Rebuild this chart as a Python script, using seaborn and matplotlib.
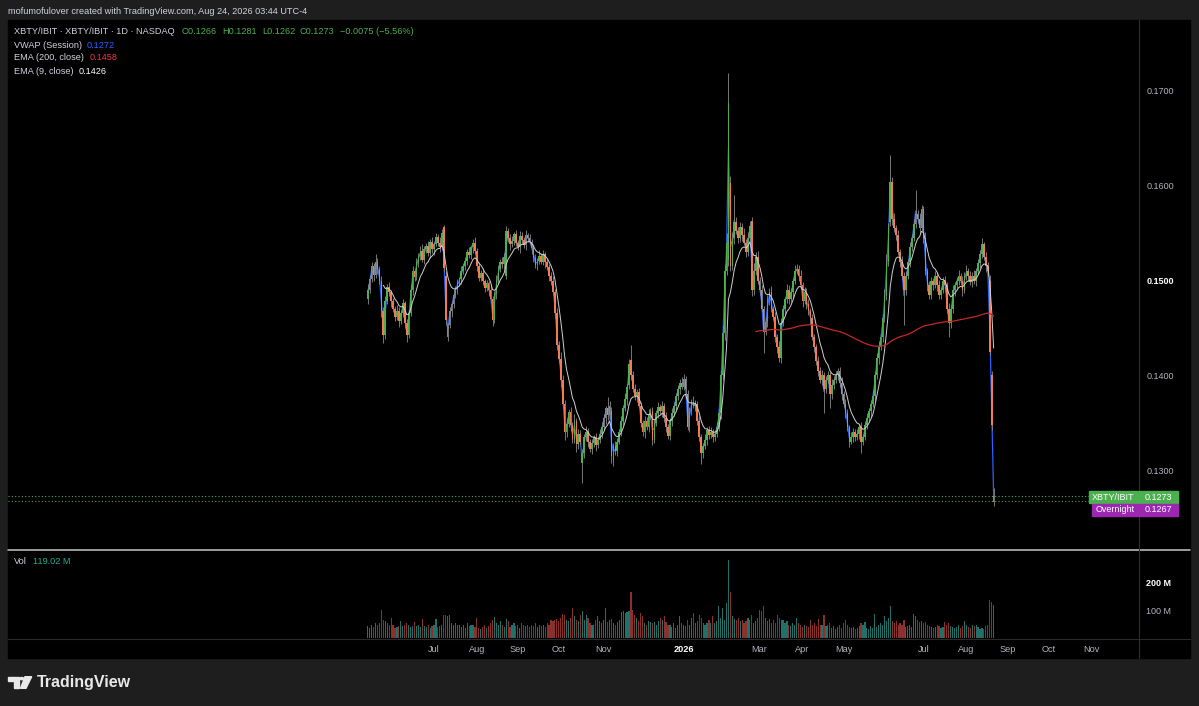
import numpy as np
import pandas as pd
import matplotlib
matplotlib.use("Agg")
import matplotlib.pyplot as plt
import seaborn as sns
from matplotlib.patches import Rectangle, Polygon, Circle
from matplotlib.lines import Line2D

# ---- data: prices in 1/10000, volume in millions ----
first_day = "2025-05-12"
market_holidays = ["2025-05-26", "2025-06-19", "2025-07-04", "2025-09-01", "2025-11-27",
                   "2025-12-25", "2026-01-01", "2026-01-19", "2026-02-16", "2026-04-03",
                   "2026-05-25", "2026-06-19", "2026-07-03", "2026-09-07", "2026-11-26"]

closes = [
    1490, 1502, 1515, 1506, 1520, 1512, 1500, 1468, 1442, 1478,
    1493, 1488, 1478, 1470, 1462, 1468, 1457, 1466, 1476, 1455,
    1443, 1466, 1490, 1510, 1504, 1520, 1526, 1531, 1522, 1533,
    1536, 1529, 1541, 1533, 1539, 1546, 1540, 1535, 1550, 1513,
    1458, 1453, 1468, 1475, 1485, 1491, 1498, 1502, 1510, 1515,
    1521, 1530, 1527, 1535, 1540, 1531, 1515, 1503, 1508, 1500,
    1492, 1497, 1490, 1480, 1458, 1486, 1500, 1512, 1520, 1517,
    1525, 1552, 1545, 1538, 1542, 1549, 1540, 1535, 1547, 1543,
    1537, 1548, 1545, 1541, 1534, 1524, 1516, 1521, 1526, 1520,
    1528, 1519, 1514, 1505, 1499, 1488, 1466, 1432, 1417, 1395,
    1370, 1340, 1349, 1361, 1347, 1333, 1352, 1327, 1338, 1330,
    1318, 1335, 1340, 1330, 1322, 1328, 1335, 1326, 1332, 1338,
    1345, 1355, 1365, 1358, 1368, 1315, 1325, 1320, 1330, 1340,
    1352, 1365, 1375, 1388, 1412, 1400, 1385, 1378, 1382, 1368,
    1350, 1340, 1352, 1345, 1358, 1362, 1332, 1350, 1360, 1366,
    1362, 1368, 1355, 1345, 1336, 1352, 1360, 1368, 1378, 1385,
    1392, 1388, 1396, 1385, 1345, 1362, 1372, 1368, 1370, 1352,
    1335, 1318, 1325, 1332, 1342, 1337, 1340, 1335, 1338, 1345,
    1360, 1400, 1445, 1510, 1540, 1687, 1515, 1545, 1562, 1552,
    1545, 1556, 1548, 1540, 1530, 1545, 1558, 1490, 1510, 1525,
    1500, 1490, 1470, 1446, 1456, 1480, 1488, 1470, 1462, 1440,
    1430, 1418, 1455, 1470, 1480, 1490, 1480, 1488, 1500, 1510,
    1512, 1505, 1495, 1478, 1488, 1475, 1468, 1460, 1440, 1430,
    1415, 1405, 1395, 1400, 1385, 1395, 1400, 1380, 1390, 1395,
    1400, 1405, 1392, 1380, 1370, 1360, 1345, 1330, 1335, 1340,
    1335, 1338, 1345, 1330, 1335, 1348, 1355, 1362, 1370, 1378,
    1400, 1418, 1430, 1440, 1460, 1485, 1520, 1555, 1604, 1565,
    1555, 1548, 1530, 1520, 1505, 1490, 1505, 1520, 1535, 1545,
    1560, 1570, 1565, 1555, 1575, 1545, 1510, 1495, 1485, 1500,
    1495, 1505, 1495, 1485, 1490, 1500, 1495, 1470, 1455, 1470,
    1490, 1495, 1500, 1505, 1500, 1490, 1505, 1510, 1505, 1498,
    1505, 1500, 1510, 1518, 1528, 1538, 1525, 1515, 1510, 1425,
    1348, 1273,
]

opens = [
    1480, 1490, 1502, 1515, 1506, 1520, 1512, 1500, 1468, 1442,
    1478, 1493, 1488, 1478, 1470, 1462, 1468, 1457, 1466, 1476,
    1455, 1443, 1466, 1490, 1510, 1504, 1520, 1526, 1531, 1522,
    1533, 1536, 1529, 1541, 1533, 1539, 1546, 1540, 1535, 1556,
    1505, 1440, 1453, 1468, 1475, 1485, 1491, 1498, 1502, 1510,
    1515, 1521, 1530, 1527, 1535, 1540, 1531, 1515, 1503, 1508,
    1500, 1492, 1497, 1490, 1480, 1458, 1486, 1500, 1512, 1520,
    1517, 1505, 1552, 1545, 1538, 1542, 1549, 1540, 1535, 1547,
    1543, 1537, 1548, 1545, 1541, 1534, 1524, 1516, 1521, 1526,
    1520, 1528, 1519, 1514, 1505, 1499, 1488, 1466, 1432, 1417,
    1395, 1370, 1340, 1349, 1361, 1347, 1333, 1352, 1327, 1338,
    1307, 1318, 1335, 1340, 1330, 1322, 1328, 1335, 1326, 1332,
    1338, 1345, 1355, 1365, 1358, 1362, 1310, 1325, 1320, 1330,
    1340, 1352, 1365, 1375, 1390, 1416, 1400, 1385, 1378, 1382,
    1368, 1350, 1340, 1352, 1345, 1358, 1362, 1332, 1350, 1360,
    1366, 1362, 1368, 1355, 1345, 1336, 1352, 1360, 1368, 1378,
    1385, 1392, 1388, 1396, 1380, 1345, 1362, 1372, 1368, 1370,
    1352, 1335, 1318, 1325, 1332, 1342, 1337, 1340, 1335, 1338,
    1345, 1360, 1400, 1445, 1510, 1522, 1603, 1515, 1545, 1562,
    1552, 1545, 1556, 1548, 1540, 1530, 1545, 1563, 1490, 1510,
    1525, 1500, 1490, 1470, 1446, 1456, 1480, 1488, 1470, 1462,
    1440, 1430, 1418, 1455, 1470, 1480, 1490, 1480, 1488, 1500,
    1510, 1512, 1505, 1495, 1478, 1488, 1475, 1468, 1460, 1440,
    1430, 1415, 1405, 1395, 1400, 1385, 1395, 1400, 1380, 1390,
    1395, 1400, 1405, 1392, 1380, 1370, 1360, 1345, 1330, 1335,
    1340, 1335, 1338, 1345, 1330, 1335, 1348, 1355, 1362, 1370,
    1378, 1400, 1418, 1430, 1440, 1460, 1485, 1520, 1562, 1604,
    1565, 1555, 1548, 1530, 1520, 1505, 1490, 1505, 1520, 1535,
    1545, 1560, 1570, 1565, 1555, 1575, 1545, 1510, 1495, 1485,
    1500, 1495, 1505, 1495, 1485, 1490, 1500, 1495, 1470, 1455,
    1470, 1490, 1495, 1500, 1505, 1500, 1490, 1505, 1510, 1505,
    1498, 1505, 1500, 1510, 1518, 1528, 1538, 1525, 1515, 1500,
    1400, 1266,
]

wick_up = [
    6, 4, 5, 3, 8, 4, 3, 5, 4, 6,   3, 5, 2, 4, 3, 6, 4, 3, 5, 2,
    4, 3, 6, 5, 2, 4, 3, 5, 7, 3,   4, 6, 3, 5, 2, 4, 3, 6, 4, 3,
    5, 2, 4, 3, 6, 3, 4, 2, 5, 3,   4, 3, 5, 2, 4, 6, 3, 4, 3, 5,
    2, 4, 3, 5, 4, 3, 6, 4, 3, 5,   4, 6, 3, 4, 5, 2, 4, 3, 5, 4,
    3, 5, 2, 4, 3, 5, 4, 3, 6, 3,   4, 2, 5, 3, 4, 6, 3, 5, 4, 8,
    5, 4, 6, 3, 5, 4, 7, 3, 5, 4,   4, 3, 6, 4, 3, 5, 2, 4, 3, 5,
    6, 4, 3, 12, 5, 4, 3, 6, 4, 3,  5, 4, 6, 3, 5, 16, 4, 6, 3, 5,
    4, 3, 5, 4, 6, 3, 5, 4, 3, 6,   4, 5, 3, 6, 4, 3, 5, 4, 3, 5,
    4, 6, 5, 3, 4, 5, 3, 6, 4, 3,   5, 3, 4, 6, 3, 4, 5, 3, 4, 6,
    5, 6, 8, 7, 10, 32, 7, 6, 28, 5, 4, 6, 5, 7, 4, 6, 5, 4, 8, 5,
    6, 4, 5, 3, 6, 5, 4, 6, 3, 5,   4, 6, 5, 4, 3, 6, 5, 4, 3, 6,
    5, 4, 6, 3, 5, 4, 6, 3, 5, 4,   3, 5, 4, 6, 3, 4, 5, 3, 6, 4,
    5, 3, 4, 6, 3, 5, 4, 3, 5, 4,   3, 5, 4, 6, 3, 4, 5, 3, 4, 6,
    4, 5, 6, 4, 5, 6, 8, 6, 28, 5,  6, 4, 5, 3, 6, 4, 5, 3, 6, 4,
    5, 25, 4, 6, 5, 4, 6, 3, 5, 4,  3, 5, 4, 6, 3, 4, 5, 3, 6, 4,
    5, 3, 4, 6, 3, 5, 4, 6, 3, 5,   4, 6, 3, 5, 4, 7, 3, 5, 4, 6,
    4, 8,
]

wick_down = [
    5, 3, 4, 6, 3, 5, 4, 6, 8, 4,   3, 4, 6, 3, 5, 4, 6, 3, 4, 5,
    8, 4, 3, 5, 4, 3, 6, 4, 3, 5,   4, 3, 5, 4, 6, 3, 4, 5, 3, 4,
    5, 4, 3, 6, 4, 3, 5, 4, 6, 3,   4, 5, 3, 4, 6, 3, 5, 4, 3, 5,
    4, 3, 6, 4, 6, 3, 5, 4, 3, 4,   5, 3, 4, 6, 3, 5, 4, 3, 6, 4,
    3, 5, 4, 3, 6, 4, 3, 5, 4, 3,   4, 6, 3, 5, 4, 3, 6, 5, 4, 7,
    6, 8, 5, 4, 6, 5, 4, 8, 5, 4,   21, 5, 4, 6, 3, 5, 4, 6, 3, 4,
    4, 3, 6, 5, 4, 8, 6, 4, 5, 3,   4, 5, 3, 6, 4, 5, 3, 4, 6, 3,
    5, 4, 6, 3, 5, 4, 6, 3, 4, 5,   3, 6, 4, 5, 3, 4, 6, 3, 5, 4,
    5, 3, 4, 6, 3, 5, 4, 3, 6, 4,   4, 12, 5, 3, 6, 4, 3, 5, 4, 3,
    4, 6, 5, 8, 4, 7, 5, 4, 6, 3,   5, 4, 6, 3, 5, 4, 3, 6, 5, 4,
    4, 5, 3, 23, 4, 5, 6, 3, 4, 5,  6, 4, 5, 3, 6, 4, 5, 3, 6, 4,
    3, 5, 4, 6, 3, 5, 4, 6, 3, 5,   4, 6, 3, 5, 25, 4, 3, 15, 5, 4,
    3, 5, 4, 6, 3, 5, 4, 6, 3, 5,   4, 3, 5, 12, 4, 3, 5, 4, 6, 3,
    5, 4, 6, 3, 5, 4, 6, 5, 4, 6,   4, 5, 3, 6, 4, 37, 5, 3, 6, 4,
    3, 5, 4, 6, 3, 5, 4, 6, 5, 4,   5, 3, 6, 4, 5, 3, 6, 4, 15, 5,
    4, 6, 3, 5, 4, 6, 3, 4, 5, 3,   5, 4, 6, 3, 5, 4, 3, 6, 5, 4,
    6, 4,
]

volumes_m = [
    43, 37, 46, 41, 53, 49, 55, 103, 67, 61,   53, 49, 73, 46, 37, 41, 43, 61, 43, 46,
    53, 49, 41, 43, 58, 43, 46, 41, 70, 43,    41, 46, 38, 43, 46, 70, 41, 43, 49, 82,
    85, 79, 82, 53, 49, 53, 46, 49, 41, 46,    37, 55, 43, 46, 49, 41, 73, 36, 34, 41,
    48, 37, 43, 53, 65, 77, 55, 49, 61, 46,    41, 70, 61, 41, 46, 55, 43, 49, 37, 53,
    46, 43, 49, 41, 48, 43, 53, 41, 46, 43,    49, 41, 53, 46, 67, 61, 65, 70, 61, 73,
    89, 82, 67, 61, 73, 109, 79, 67, 61, 85,   97, 67, 82, 73, 53, 46, 49, 67, 79, 61,
    53, 67, 109, 58, 65, 70, 53, 46, 58, 67,   94, 97, 91, 94, 97, 169, 103, 85, 73, 61,
    91, 79, 55, 49, 61, 58, 53, 58, 49, 61,    73, 67, 79, 58, 49, 46, 41, 53, 37, 46,
    79, 53, 46, 43, 65, 49, 73, 91, 53, 61,    82, 73, 53, 49, 55, 67, 55, 79, 53, 61,
    118, 73, 109, 67, 127, 285, 166, 79, 70, 65, 73, 61, 67, 53, 61, 73, 65, 82, 53, 61,
    73, 103, 97, 118, 73, 61, 70, 55, 67, 53,  85, 73, 65, 67, 53, 61, 49, 43, 53, 46,
    73, 53, 46, 41, 49, 43, 41, 67, 46, 53,    43, 70, 49, 46, 85, 43, 46, 53, 37, 43,
    34, 41, 49, 37, 53, 65, 46, 41, 37, 41,    34, 37, 43, 53, 46, 58, 36, 34, 43, 37,
    89, 41, 46, 53, 49, 79, 61, 73, 115, 61,   53, 61, 46, 53, 49, 67, 41, 43, 46, 41,
    89, 79, 65, 58, 61, 53, 58, 49, 43, 41,    37, 41, 49, 43, 37, 41, 58, 49, 53, 43,
    41, 37, 41, 46, 37, 43, 61, 46, 41, 37,    49, 43, 46, 41, 34, 37, 34, 43, 49, 140,
    130, 119.02,
]

# readouts printed in the chart's legend
last_ohlc = {"O": "0.1266", "H": "0.1281", "L": "0.1262", "C": "0.1273"}
last_change = "\u22120.0075 (\u22125.56%)"
vwap_readout, ema200_readout, ema9_readout = "0.1272", "0.1458", "0.1426"
last_price, overnight_price = 0.1273, 0.1267

tick_months = ["2025-07-01", "2025-08-01", "2025-09-01", "2025-10-01", "2025-11-01",
               "2026-01-01", "2026-03-01", "2026-04-01", "2026-05-01", "2026-07-01",
               "2026-08-01", "2026-09-01", "2026-10-01", "2026-11-01"]
tick_labels = ["Jul", "Aug", "Sep", "Oct", "Nov", "2026", "Mar", "Apr", "May",
               "Jul", "Aug", "Sep", "Oct", "Nov"]
price_ticks = [0.13, 0.14, 0.15, 0.16, 0.17]
vol_ticks = [100, 200]

# ---- look ----
W, H = 1199, 706
BG = "#1e1e1e"
UP, DOWN, WICK = "#4caf50", "#f47a52", "#8a8a8a"
VOL_UP, VOL_DOWN = "#1f7169", "#8a302d"
AXIS_TXT = "#b2b5be"


def fx(x):
    return x / W


def fy(y):
    return 1 - y / H


# pixel calibration of the reference: bar index -> x, price -> y
X0, DX = 367.7, 1.95
def price_at(py):
    return 0.17 - (py - 91) / 9475


def ema(values, length):
    out = np.full(len(values), np.nan)
    out[length - 1] = values[:length].mean()
    a = 2 / (length + 1)
    for k in range(length, len(values)):
        out[k] = a * values[k] + (1 - a) * out[k - 1]
    return out


sns.set_theme(style="dark")
plt.rcParams["font.family"] = ["Liberation Sans", "DejaVu Sans"]

days = pd.bdate_range(first_day, "2026-12-31")
days = days[~days.isin(pd.to_datetime(market_holidays))]
n = len(closes)
idx = np.arange(n)

o = np.array(opens) / 1e4
c = np.array(closes) / 1e4
hi = np.maximum(o, c) + np.array(wick_up) / 1e4
lo = np.minimum(o, c) - np.array(wick_down) / 1e4
up = c >= o
vwap = (hi + lo + c) / 3
ema9 = ema(c, 9)
ema200 = ema(c, 200)

fig = plt.figure(figsize=(W / 100, H / 100), dpi=100, facecolor=BG)
fig.patches.append(Rectangle((fx(8), fy(658)), (1190 - 8) / W, (658 - 20) / H,
                             transform=fig.transFigure, color="black", zorder=-5))

# price panel
ax = fig.add_axes([fx(8), fy(549), (1138 - 8) / W, (549 - 20) / H])
ax.set_facecolor("black")
sns.lineplot(x=idx, y=vwap, color="#2962ff", linewidth=0.9, estimator=None, sort=False,
             ax=ax, zorder=2)
ax.vlines(idx, lo, hi, color=WICK, linewidth=0.6, zorder=3)
ax.bar(idx, np.maximum(np.abs(c - o), 0.00004), bottom=np.minimum(o, c), width=0.85,
       color=np.where(up, UP, DOWN), linewidth=0, zorder=4)
sns.lineplot(x=idx[8:], y=ema9[8:], color="#d0d0d0", linewidth=0.7, estimator=None,
             sort=False, ax=ax, zorder=5)
sns.lineplot(x=idx[199:], y=ema200[199:], color="#c62828", linewidth=0.9, estimator=None,
             sort=False, ax=ax, zorder=5)
ax.axhline(last_price, color="#4caf50", linestyle=(0, (1, 2)), linewidth=0.8, zorder=1)
ax.axhline(overnight_price, color="#5c9c5c", linestyle=(0, (1, 2)), linewidth=0.8, zorder=1)

ax.set_xlim((8 - X0) / DX, (1138 - X0) / DX)
ax.set_ylim(price_at(549), price_at(20))
ax.set_xticks([])
ax.yaxis.tick_right()
ax.set_yticks(price_ticks, [f"{p:.4f}" for p in price_ticks])
ax.tick_params(axis="y", length=0, pad=6, labelsize=6.5, labelcolor=AXIS_TXT)
for lab in ax.get_yticklabels():
    if lab.get_text() == "0.1500":
        lab.set_fontweight("bold")
        lab.set_color("white")
ax.set_xlabel("")
ax.set_ylabel("")
for s in ax.spines.values():
    s.set_visible(False)

# volume panel
ax2 = fig.add_axes([fx(8), fy(638), (1138 - 8) / W, (638 - 551) / H])
ax2.set_facecolor("black")
ax2.bar(idx, volumes_m, width=0.6, color=np.where(up, VOL_UP, VOL_DOWN),
        linewidth=0, antialiased=False)
ax2.set_xlim((8 - X0) / DX, (1138 - X0) / DX)
ax2.set_ylim(0, 87 / 27.5 * 100)
tick_pos = [days.searchsorted(pd.Timestamp(d)) for d in tick_months]
ax2.set_xticks(tick_pos, tick_labels)
ax2.tick_params(axis="x", length=0, pad=5, labelsize=6.6, labelcolor=AXIS_TXT)
for lab in ax2.get_xticklabels():
    if lab.get_text() == "2026":
        lab.set_fontweight("bold")
        lab.set_color("white")
ax2.yaxis.tick_right()
ax2.set_yticks(vol_ticks, [f"{v} M" for v in vol_ticks])
ax2.tick_params(axis="y", length=0, pad=6, labelsize=6.5, labelcolor=AXIS_TXT)
for lab in ax2.get_yticklabels():
    if lab.get_text() == "200 M":
        lab.set_fontweight("bold")
        lab.set_color("white")
ax2.grid(False)
for s in ax2.spines.values():
    s.set_visible(False)

# panel separators
fig.add_artist(Line2D([fx(8), fx(1190)], [fy(550), fy(550)], transform=fig.transFigure,
                      color="#c8c8c8", linewidth=1.1))
fig.add_artist(Line2D([fx(8), fx(1190)], [fy(638.5), fy(638.5)], transform=fig.transFigure,
                      color="#2a2a2a", linewidth=0.8))
fig.add_artist(Line2D([fx(1138.5), fx(1138.5)], [fy(20), fy(658)], transform=fig.transFigure,
                      color="#2e2e2e", linewidth=0.8))

# last-price tags on the price scale
def tag(x0, x1, y0, y1, text, color):
    fig.patches.append(Rectangle((fx(x0), fy(y1)), (x1 - x0) / W, (y1 - y0) / H,
                                 transform=fig.transFigure, color=color, zorder=5))
    fig.text(fx((x0 + x1) / 2), fy((y0 + y1) / 2), text, color="white", fontsize=6.5,
             ha="center", va="center", zorder=6)

tag(1089, 1138, 491, 503, "XBTY/IBIT", "#4caf50")
tag(1139, 1178, 491, 503, f"{last_price:.4f}", "#4caf50")
tag(1092, 1138, 504, 516, "Overnight", "#9c27b0")
tag(1139, 1178, 504, 516, f"{overnight_price:.4f}", "#9c27b0")

# legend texts
def txt(x, y, s, color="#d1d4dc", size=6.6, weight="normal"):
    fig.text(fx(x), fy(y), s, color=color, fontsize=size, ha="left", va="center",
             fontweight=weight)

txt(8, 11, "mofumofulover created with TradingView.com, Aug 24, 2026 03:44 UTC-4", size=6.6)
txt(14, 31, "XBTY/IBIT · XBTY/IBIT · 1D · NASDAQ")
green = "#4caf50"
for (k, v), x in zip(last_ohlc.items(), [182, 222, 262, 299]):
    txt(x, 31, f"{k}{v}", green)
txt(340, 31, last_change, green)
txt(14, 45, "VWAP (Session)")
txt(87, 45, vwap_readout, "#2962ff")
txt(14, 58, "EMA (200, close)")
txt(90, 58, ema200_readout, "#f23645")
txt(14, 71, "EMA (9, close)")
txt(79, 71, ema9_readout, "white")
txt(14, 562, "Vol")
txt(33, 562, f"{volumes_m[-1]:.2f} M", "#22ab94")

# TradingView wordmark
logo = "#e8e8e8"
fig.patches.append(Polygon([(fx(8.3), fy(676.7)), (fx(19.3), fy(676.7)), (fx(19.3), fy(688.3)),
                            (fx(14), fy(688.3)), (fx(14), fy(680.8)), (fx(8.3), fy(680.8))],
                           closed=True, transform=fig.transFigure, color=logo))
fig.patches.append(Circle((fx(21.8), fy(678.6)), 1.9 / W, transform=fig.transFigure, color=logo))
fig.patches.append(Polygon([(fx(25), fy(676.7)), (fx(31.7), fy(676.7)), (fx(26), fy(688.3)),
                            (fx(20.5), fy(688.3))],
                           closed=True, transform=fig.transFigure, color=logo))
txt(37, 683, "TradingView", logo, size=11.5, weight="bold")

fig.savefig("out.png", dpi=100, facecolor=BG)
